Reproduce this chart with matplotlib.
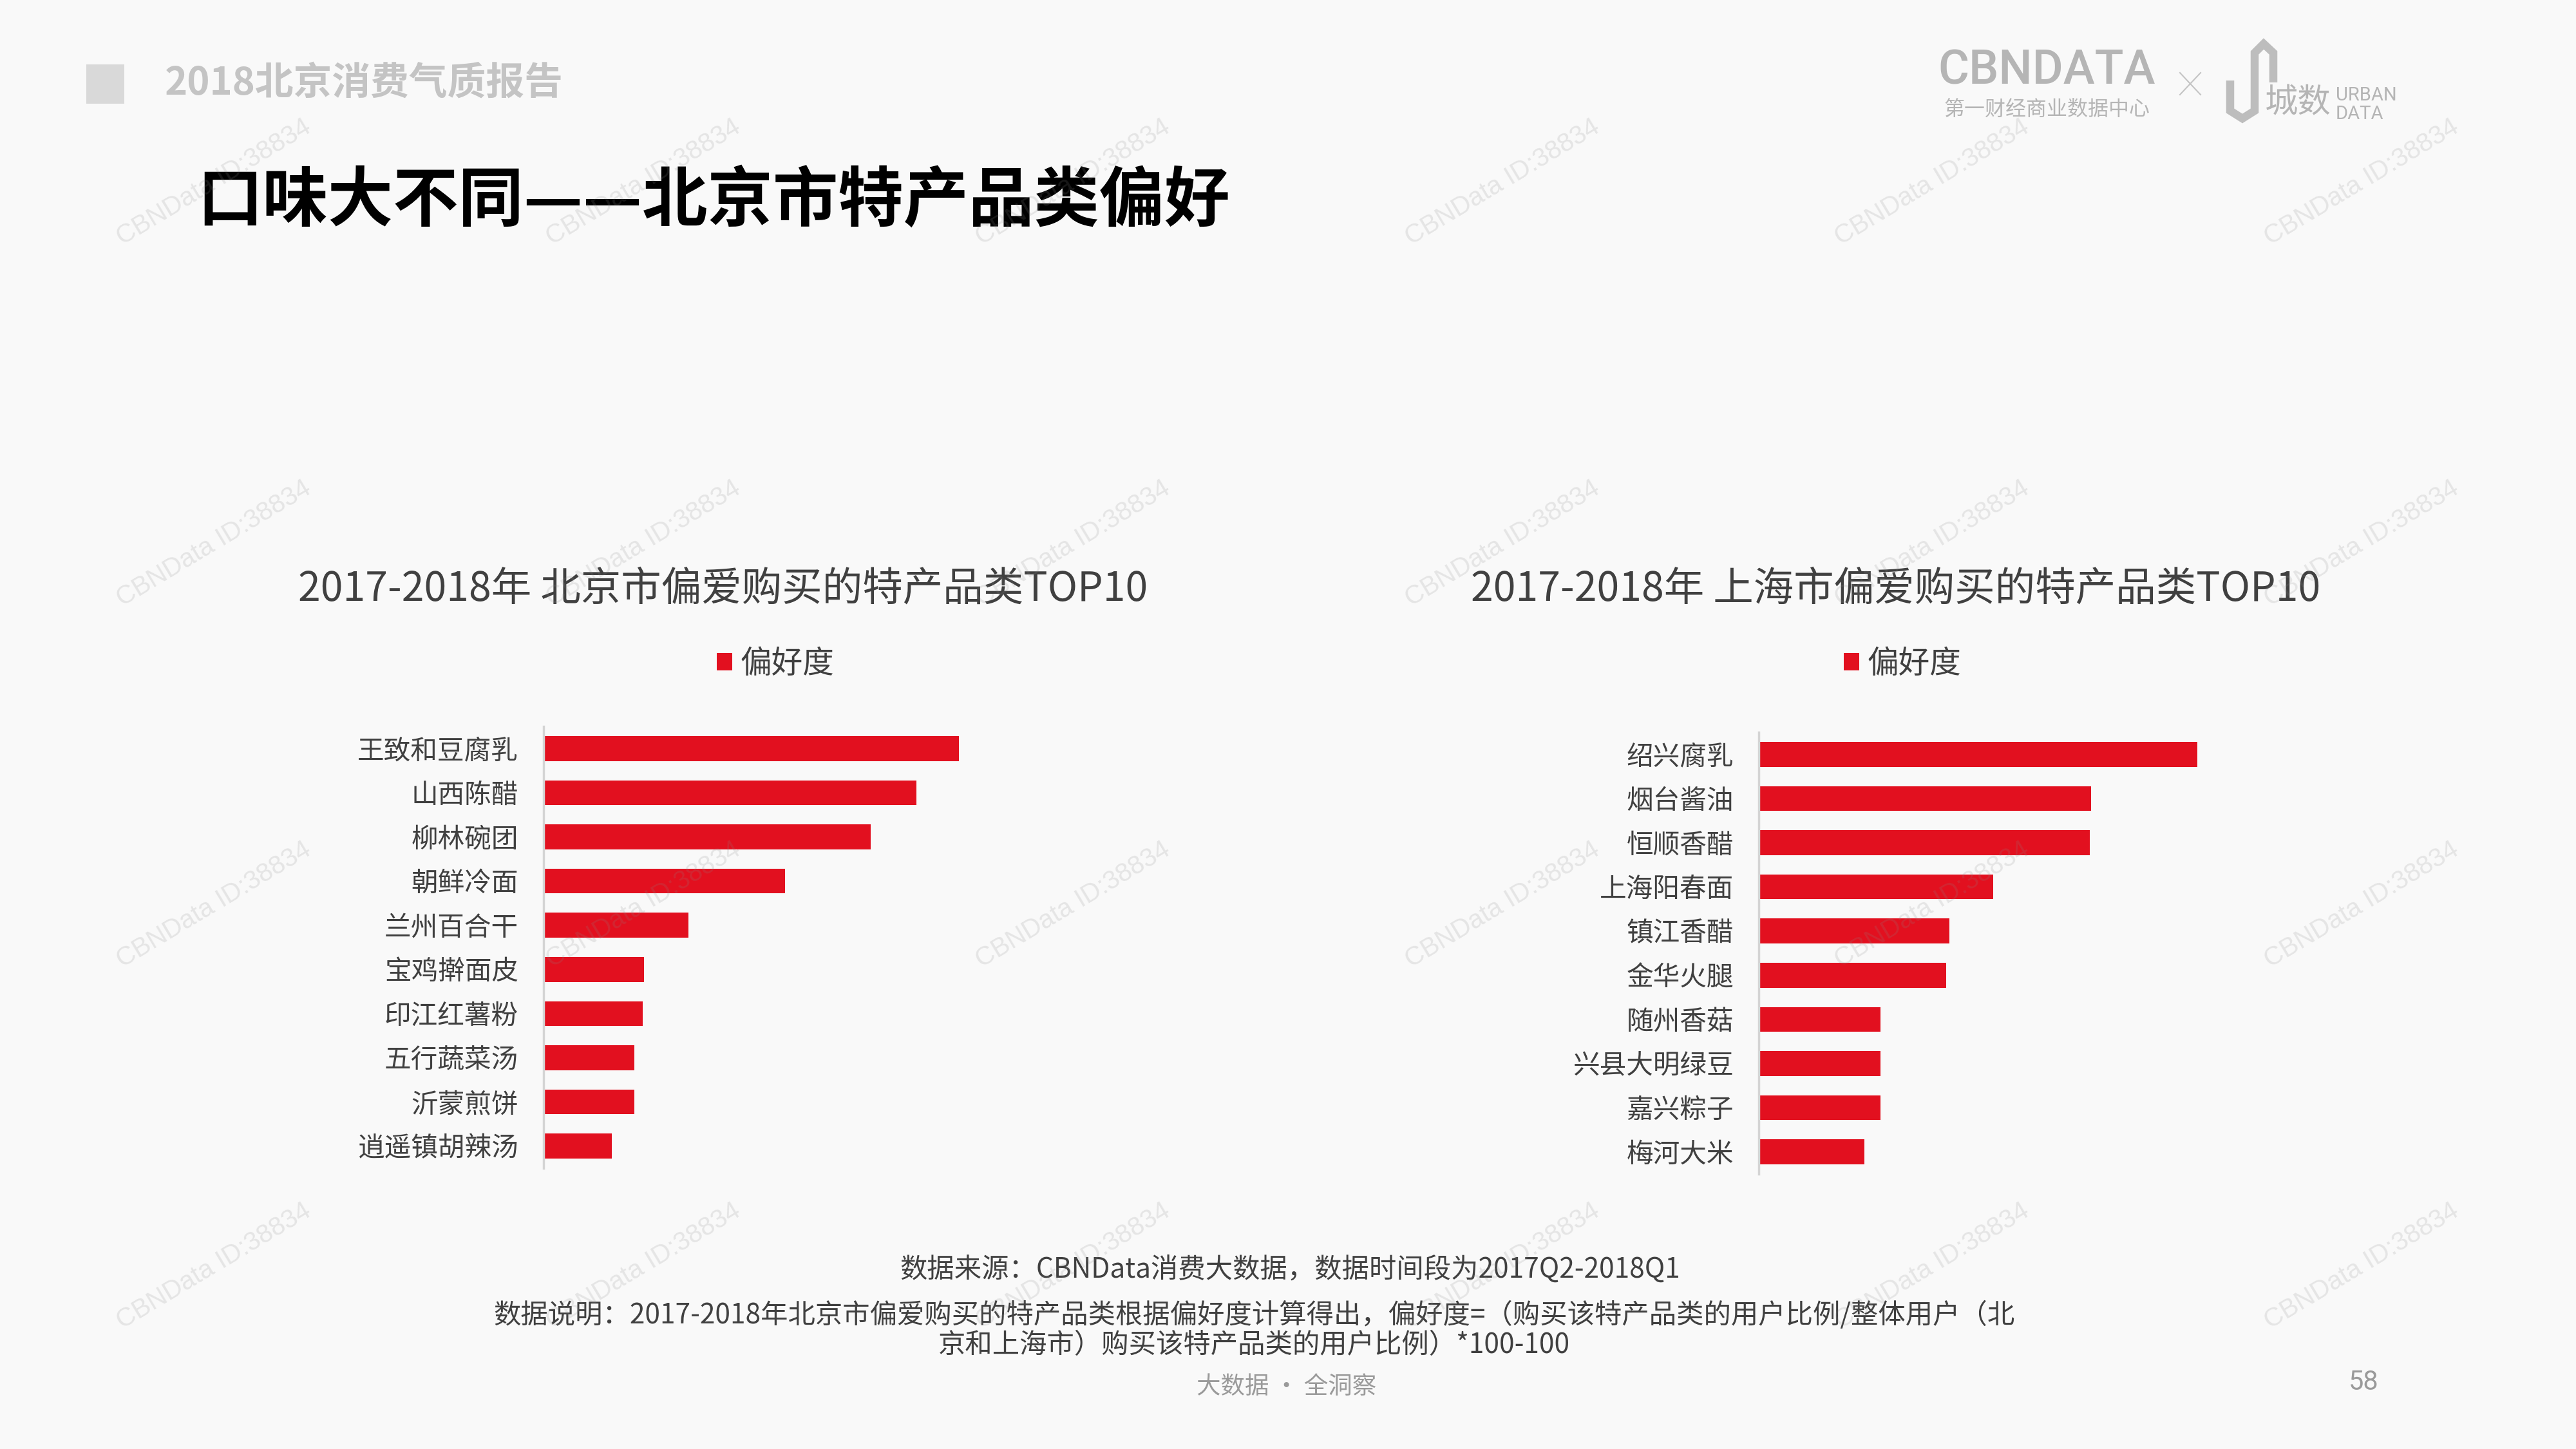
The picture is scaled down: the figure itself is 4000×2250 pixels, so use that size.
import matplotlib
matplotlib.use("Agg")
import matplotlib.pyplot as plt
from matplotlib.patches import Rectangle

plt.rcParams['font.family'] = ['Noto Sans CJK SC', 'DejaVu Sans']

W, H = 4000, 2250
RED = '#E2101F'
TXT = '#404040'

# 北京市偏爱购买的特产品类 (偏好度, 从图上估读)
bj_items = ["王致和豆腐乳", "山西陈醋", "柳林碗团", "朝鲜冷面", "兰州百合干",
            "宝鸡擀面皮", "印江红薯粉", "五行蔬菜汤", "沂蒙煎饼", "逍遥镇胡辣汤"]
bj_score = [64.5, 57.9, 50.8, 37.5, 22.5, 15.6, 15.4, 14.1, 14.1, 10.6]

# 上海市偏爱购买的特产品类
sh_items = ["绍兴腐乳", "烟台酱油", "恒顺香醋", "上海阳春面", "镇江香醋",
            "金华火腿", "随州香菇", "兴县大明绿豆", "嘉兴粽子", "梅河大米"]
sh_score = [68.1, 51.6, 51.4, 36.4, 29.6, 29.1, 18.9, 18.9, 18.9, 16.4]

bj_title = "2017-2018年 北京市偏爱购买的特产品类TOP10"
sh_title = "2017-2018年 上海市偏爱购买的特产品类TOP10"

fig = plt.figure(figsize=(40, 22.5), dpi=100)
fig.patch.set_facecolor('#f9f9f9')


# 横向条形图
def draw_bars(left, top, items, vals, title, tx, lx):
    ax = fig.add_axes([left / W, 1 - (top + 686) / H, 900 / W, 686 / H])
    ax.barh(range(len(items)), vals, height=0.56, color=RED, label="偏好度")
    ax.set_ylim(len(items) - 0.5, -0.5)
    ax.set_xlim(0, 90)
    ax.set_yticks(range(len(items)), items)
    ax.tick_params(axis='y', length=0, pad=28, labelsize=30, labelcolor=TXT)
    ax.tick_params(axis='x', bottom=False, labelbottom=False)
    for s in ['top', 'right', 'bottom']:
        ax.spines[s].set_visible(False)
    ax.spines['left'].set_color('#d4d4d4')
    ax.spines['left'].set_linewidth(2.5)
    ax.patch.set_visible(False)
    ax.legend(loc='center', bbox_to_anchor=(lx / W, 1 - 1031 / H),
              bbox_transform=fig.transFigure, frameon=False, fontsize=35,
              handlelength=0.5, handleheight=0.5, handletextpad=0.25,
              labelcolor=TXT)
    fig.text(tx / W, 1 - 915 / H, title, ha='center', va='center',
             fontsize=45, color=TXT)
    return ax


draw_bars(844, 1128, bj_items, bj_score, bj_title, 1123, 1204)
draw_bars(2731, 1137, sh_items, sh_score, sh_title, 2944, 2954)

# 页面装饰层 (像素坐标)
ov = fig.add_axes([0, 0, 1, 1], zorder=10)
ov.set_xlim(0, W)
ov.set_ylim(H, 0)
ov.axis('off')
ov.patch.set_visible(False)

ov.add_patch(Rectangle((134, 100), 59, 61, color='#d9d9d9', lw=0))
ov.text(256, 130, "2018北京消费气质报告", fontsize=43, fontweight='bold',
        color='#c4c4c4', va='center', ha='left')
ov.text(306, 313, "口味大不同——北京市特产品类偏好", fontsize=73, fontweight='bold',
        color='black', va='center', ha='left')

# logo
ov.text(3178, 110, "CBNDATA", fontsize=53, color='#b5b5b5', family='Roboto',
        ha='center', va='center', fontweight='medium')
ov.text(3178, 171, "第一财经商业数据中心", fontsize=23, color='#b5b5b5',
        ha='center', va='center')
ov.plot([3385, 3417], [113, 147], color='#c4c4c4', lw=1.5)
ov.plot([3385, 3417], [147, 113], color='#c4c4c4', lw=1.5)
ov.plot([3463, 3463, 3482, 3501, 3501, 3515, 3530, 3530],
        [125, 172, 184, 172, 82, 68, 82, 128],
        color='#bdbdbd', lw=9, solid_joinstyle='miter', solid_capstyle='butt')
ov.text(3568, 160, "城数", fontsize=37, color='#b5b5b5', ha='center', va='center')
ov.text(3627, 148, "URBAN", fontsize=21, color='#b5b5b5', ha='left', va='center',
        family='Roboto')
ov.text(3627, 177, "DATA", fontsize=21, color='#b5b5b5', ha='left', va='center',
        family='Roboto')

# 脚注
ov.text(2003, 1972, "数据来源：CBNData消费大数据，数据时间段为2017Q2-2018Q1",
        fontsize=30.5, color=TXT, ha='center', va='center')
ov.text(1947, 2043, "数据说明：2017-2018年北京市偏爱购买的特产品类根据偏好度计算得出，"
        "偏好度=（购买该特产品类的用户比例/整体用户（北",
        fontsize=30.5, color=TXT, ha='center', va='center')
ov.text(1947, 2089, "京和上海市）购买该特产品类的用户比例）*100-100",
        fontsize=30.5, color=TXT, ha='center', va='center')
ov.text(1998, 2153, "大数据 · 全洞察", fontsize=27, color='#9a9a9a',
        ha='center', va='center')
ov.text(3670, 2146, "58", fontsize=30, color='#9a9a9a', ha='center', va='center',
        family='Roboto')

# 水印
for j in range(4):
    for i in range(6):
        ov.text(332 + 667 * i, 283 + 561 * j, "CBNData ID:38834", fontsize=29,
                family='Liberation Sans', color='#888888', alpha=0.18,
                rotation=31, ha='center', va='center')

fig.savefig("out.png", dpi=100, facecolor=fig.get_facecolor())
